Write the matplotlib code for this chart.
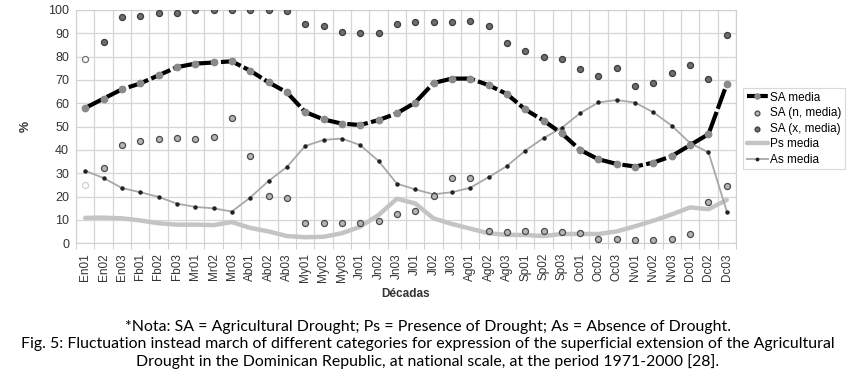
import numpy as np
import matplotlib
matplotlib.use("Agg")
import matplotlib.pyplot as plt

plt.rcParams['font.family'] = ['Liberation Sans', 'DejaVu Sans']

# dekads (10-day periods) of the year
decadas = ["En01", "En02", "En03", "Fb01", "Fb02", "Fb03", "Mr01", "Mr02", "Mr03",
           "Ab01", "Ab02", "Ab03", "My01", "My02", "My03", "Jn01", "Jn02", "Jn03",
           "Jl01", "Jl02", "Jl03", "Ag01", "Ag02", "Ag03", "Sp01", "Sp02", "Sp03",
           "Oc01", "Oc02", "Oc03", "Nv01", "Nv02", "Nv03", "Dc01", "Dc02", "Dc03"]

sa_media = [58, 62, 66, 68.5, 72, 75.5, 77, 77.5, 78, 74, 69, 64.7,
            56.3, 53.1, 51.3, 50.7, 52.8, 55.7, 60.3, 68.7, 70.6, 70.6, 67.8, 64,
            57.4, 52.6, 47.1, 40, 36, 34, 32.9, 34.6, 37.4, 42.1, 46.8, 68.3]

sa_n = [25, 32.4, 42.1, 44, 44.9, 45.1, 44.9, 45.4, 53.9, 37.6, 20.4, 19.3,
        8.8, 8.8, 8.8, 8.8, 9.6, 12.6, 14, 20.4, 27.9, 27.9, 5.4, 4.9,
        5.1, 5.4, 4.9, 4.3, 1.7, 1.7, 1.4, 1.4, 2, 4, 17.9, 24.4]

sa_x = [78.9, 86.1, 96.9, 97.3, 98.5, 98.7, 100, 100, 100, 100, 100, 99.5,
        93.8, 93.3, 90.4, 90.1, 90.1, 93.8, 94.7, 94.7, 94.7, 95.3, 93.1, 85.7,
        82.6, 80, 78.9, 74.7, 71.7, 75, 67.4, 68.9, 73, 76.3, 70.6, 89.1]

ps_media = [10.9, 11, 10.7, 9.8, 8.6, 8, 8, 7.8, 9.1, 6.6, 5.1, 3.1,
            2.6, 2.8, 4.3, 7.1, 12.1, 19.1, 17.1, 10.7, 8.3, 6.3, 4.3, 3.6,
            3.6, 3.1, 4, 4, 4, 5.1, 7.3, 9.7, 12.4, 15.4, 14.6, 18.6]

as_media = [31.1, 28, 23.7, 21.9, 19.9, 17, 15.6, 15, 13.6, 19.6, 26.7, 32.7,
            41.7, 44.3, 44.9, 42.1, 35.3, 25.6, 23.1, 21, 21.9, 23.8, 28.3, 33.1,
            39.7, 45.1, 49.5, 55.8, 60.4, 61.4, 60.3, 56.1, 50.4, 42.9, 39, 13.6]

x = np.arange(len(decadas))

fig = plt.figure(figsize=(8.56, 3.85), dpi=100)
ax = fig.add_axes([76 / 856, 1 - 243.3 / 385, 660 / 856, 233.3 / 385])

ax.plot(x, ps_media, color="#c4c4c4", lw=3.2, solid_capstyle="round", label="Ps media", zorder=2)
ax.plot(x, as_media, color="#a8a8a8", lw=1.3, marker="o", ms=2.2,
        mfc="#222222", mec="#222222", label="As media", zorder=3)
ax.plot(x, sa_media, color="black", lw=3, ls=(0, (5, 0.8)), marker="o", ms=4.6,
        mfc="#8a8a8a", mec="#8a8a8a", label="SA media", zorder=4)

# first dekad points are drawn faint in the source figure
ax.scatter(x[1:], sa_n[1:], s=19, c="#b5b5b5", edgecolors="#4a4a4a", linewidths=0.9, zorder=5,
           label="SA (n, media)")
ax.scatter(x[1:], sa_x[1:], s=19, c="#6e6e6e", edgecolors="#3c3c3c", linewidths=0.9, zorder=5,
           label="SA (x, media)")
ax.scatter(x[:1], sa_n[:1], s=19, c="white", edgecolors="#d0d0d0", linewidths=0.9, zorder=5)
ax.scatter(x[:1], sa_x[:1], s=19, c="white", edgecolors="#707070", linewidths=0.9, zorder=5)

ax.set_xlim(-0.5, len(decadas) - 0.5)
ax.set_ylim(0, 100)
ax.set_yticks(np.arange(0, 101, 10))
ax.set_xticks(x)
ax.set_xticklabels(decadas, rotation=90, fontsize=8.5, color="#333333")
ax.set_xticks(np.arange(-0.5, len(decadas), 1), minor=True)
ax.tick_params(axis="x", which="major", length=0, pad=7)
ax.tick_params(axis="x", which="minor", length=4, color="#c8c8c8")
ax.tick_params(axis="y", length=0, labelsize=9, colors="#333333", pad=5)
ax.grid(False)
ax.grid(True, which="minor", axis="x", color="#d6d6d6", lw=0.9)
ax.grid(True, which="major", axis="y", color="#d6d6d6", lw=0.9)
for s in ax.spines.values():
    s.set_color("#d0d0d0")

ax.set_ylabel("%", fontsize=9, fontweight="bold", color="#333333", labelpad=12)
ax.set_xlabel("Décadas", fontsize=8.5, fontweight="bold", color="#333333", labelpad=4)

handles, labels = ax.get_legend_handles_labels()
order = [labels.index(k) for k in ["SA media", "SA (n, media)", "SA (x, media)", "Ps media", "As media"]]
leg = fig.legend([handles[i] for i in order], [labels[i] for i in order],
                 loc="upper left", bbox_to_anchor=(743 / 856, 1 - 88 / 385),
                 fontsize=8.5, frameon=True, fancybox=False, edgecolor="#d0d0d0",
                 handlelength=1.8, handletextpad=0.2, borderpad=0.3, labelspacing=0.3,
                 borderaxespad=0, markerscale=0.8)
leg.get_frame().set_linewidth(0.8)

cap = ("*Nota: SA = Agricultural Drought; Ps = Presence of Drought; As = Absence of Drought.\n"
       "Fig. 5: Fluctuation instead march of different categories for expression of the superficial extension of the Agricultural\n"
       "Drought in the Dominican Republic, at national scale, at the period 1971-2000 [28].")
fig.text(0.5, 1 - 320 / 385, cap, ha="center", va="top", fontsize=11.4,
         family=["Lato", "DejaVu Sans"], linespacing=1.25, color="black")

fig.savefig("out.png", dpi=100)
